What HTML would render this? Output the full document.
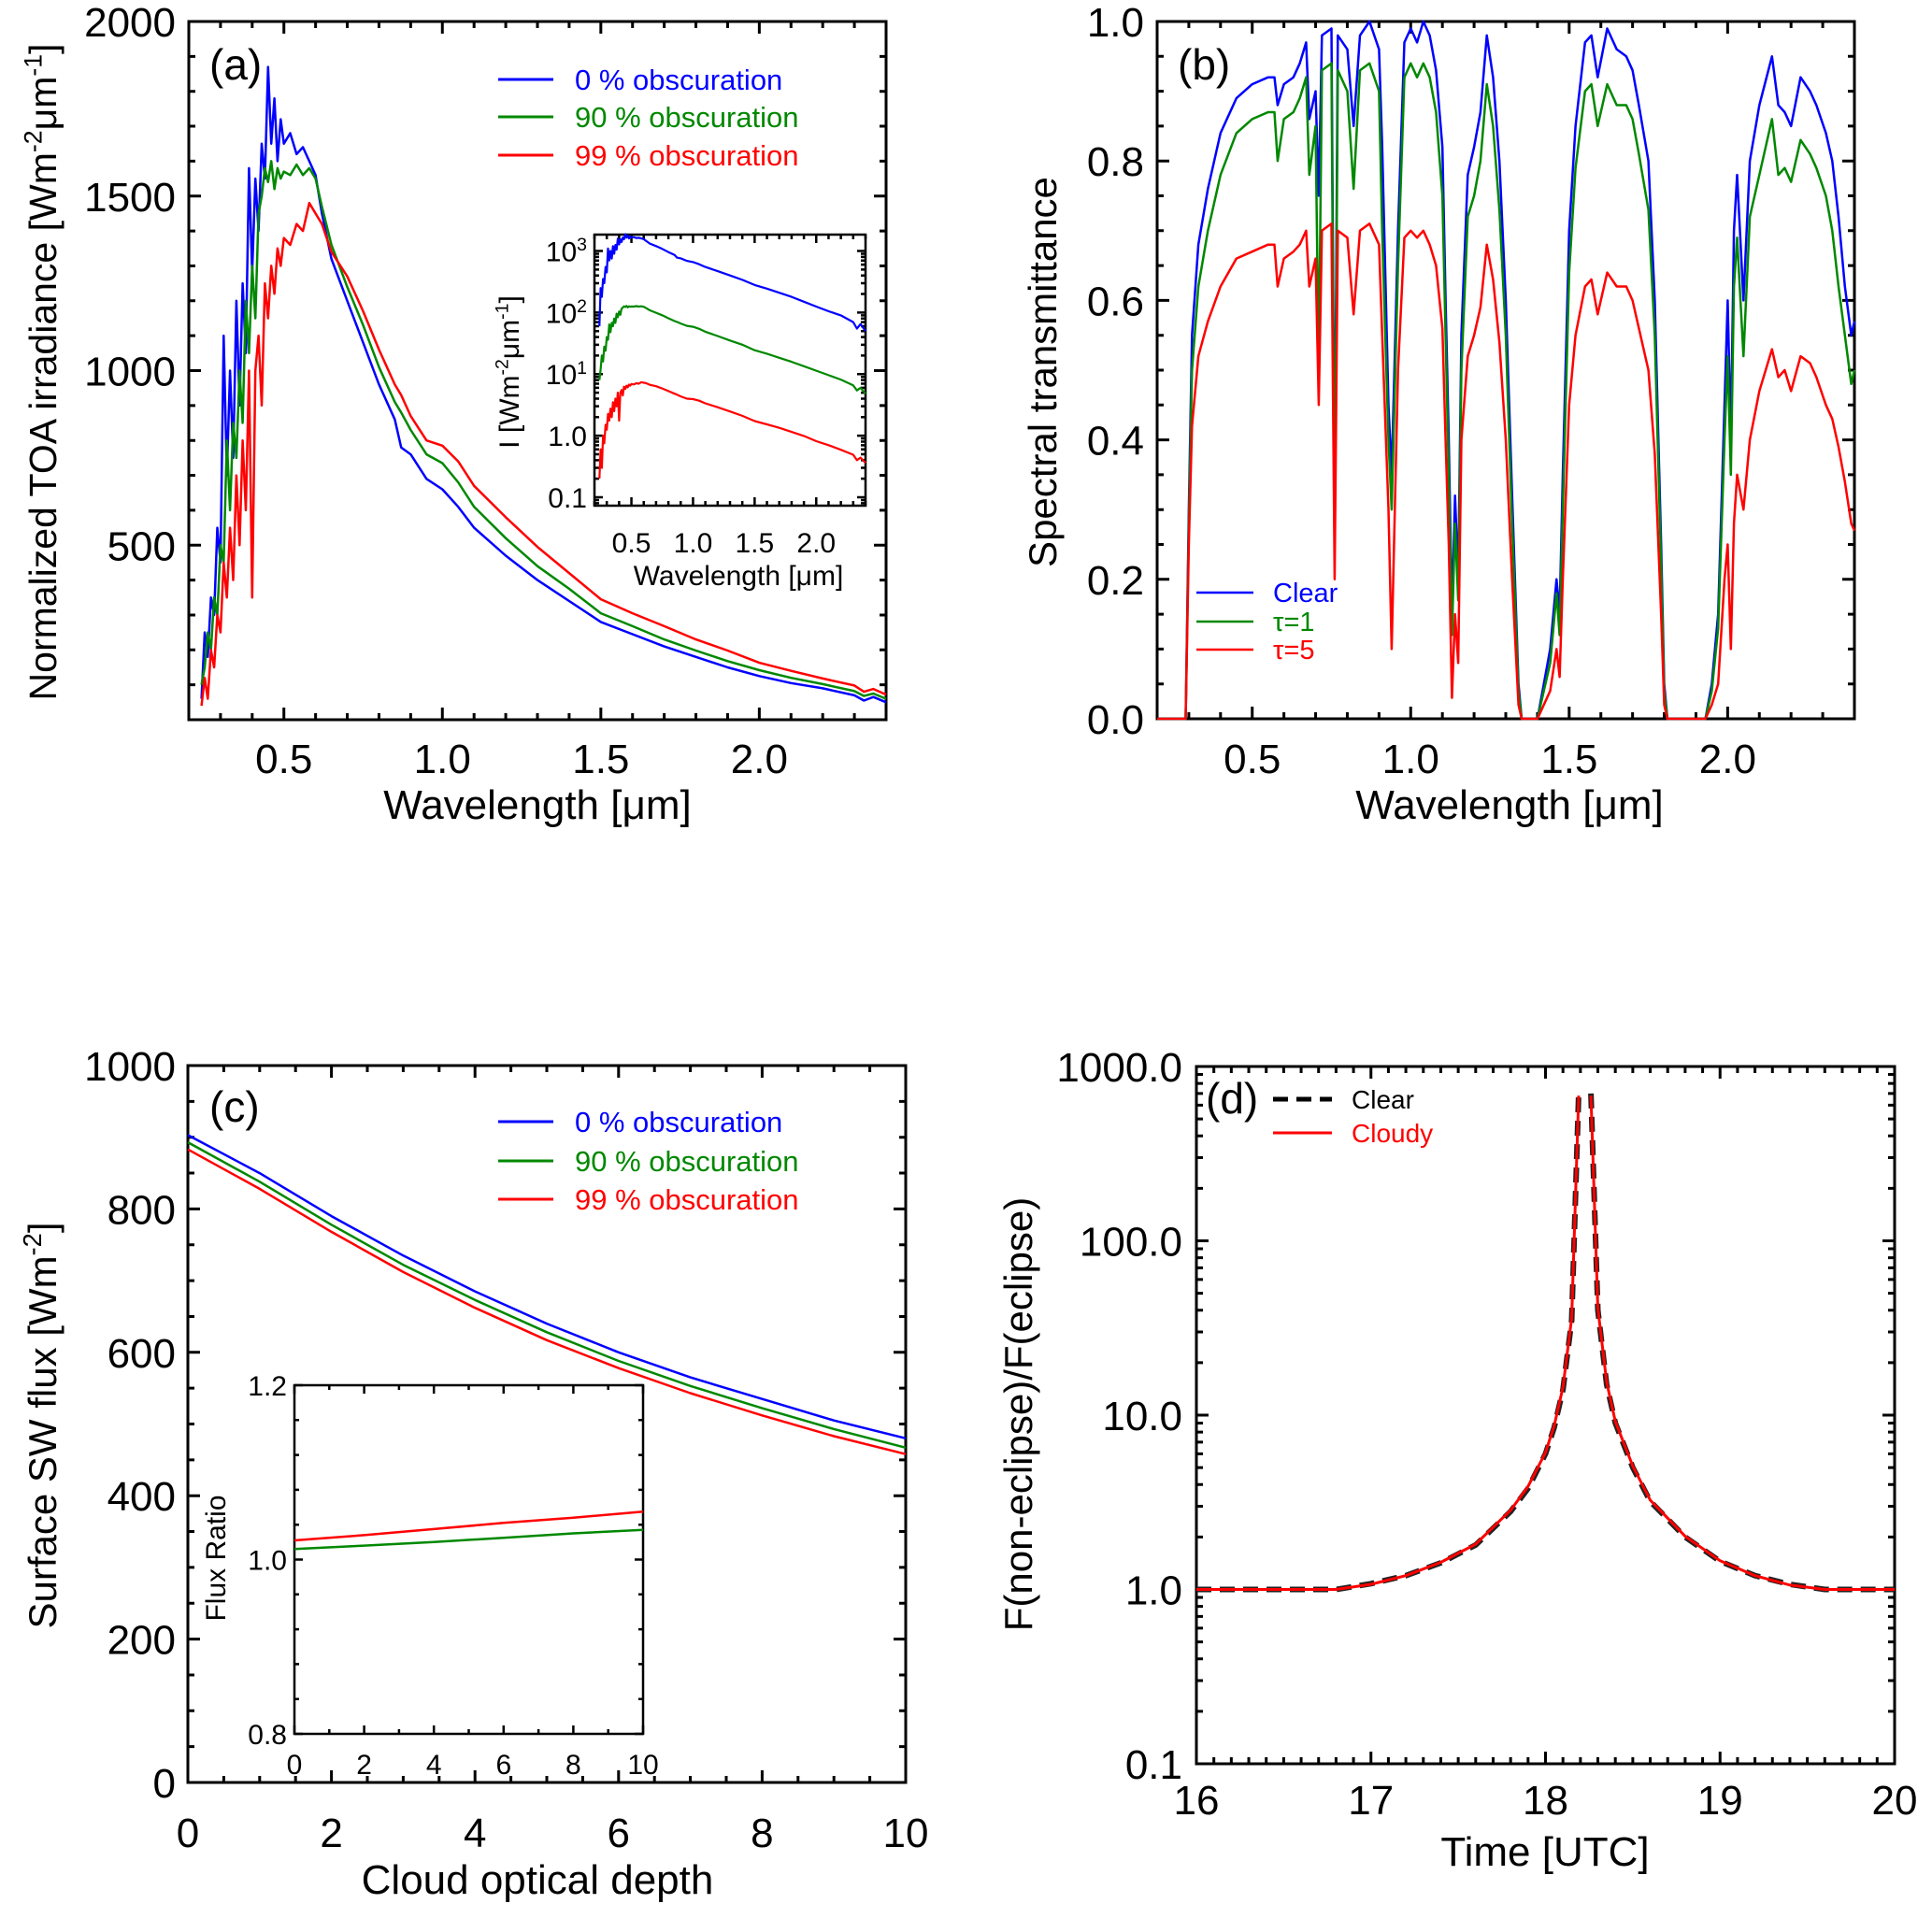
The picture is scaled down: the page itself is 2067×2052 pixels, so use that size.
<!DOCTYPE html>
<html><head><meta charset="utf-8"><title>Eclipse radiation figure</title>
<style>
html,body{margin:0;padding:0;background:#fff;}
svg{display:block;font-family:"Liberation Sans",Helvetica,Arial,sans-serif;}
</style></head>
<body>
<svg id="fig" width="2067" height="2052" viewBox="0 0 2067 2052" xmlns="http://www.w3.org/2000/svg"></svg>
<script>
// ---------- Panel (a) data ----------
const aWave = [0.24,0.25,0.26,0.27,0.28,0.29,0.30,0.31,0.32,0.33,0.34,0.35,0.36,0.37,0.38,0.39,0.40,0.41,0.42,0.43,0.44,0.45,0.46,0.47,0.48,0.49,0.50,
 0.52,0.54,0.56,0.58,0.60,0.62,0.65,0.70,0.75,0.80,0.85,0.87,0.90,0.95,1.00,1.05,1.10,1.20,1.30,1.40,1.50,1.60,1.70,1.80,1.90,2.00,2.10,2.20,2.30,2.33,2.36,2.40];
const aBlue = [60,250,180,350,300,550,450,1100,700,1000,750,1200,900,1250,1050,1580,1280,1550,1400,1650,1550,1870,1650,1780,1600,1720,1650,
 1680,1620,1640,1600,1560,1450,1320,1200,1080,960,860,780,760,690,660,610,550,470,400,340,280,245,210,180,150,125,105,90,70,55,65,50];
const aGreen = [100,150,250,200,350,300,500,450,800,600,850,750,1000,850,1200,1050,1300,1150,1450,1500,1580,1540,1600,1520,1580,1550,1570,
 1560,1590,1560,1580,1550,1470,1360,1240,1130,1010,910,880,830,760,735,680,610,520,440,375,305,268,230,198,168,142,120,102,82,68,75,60];
const aRed = [40,120,60,200,150,300,250,450,350,550,400,700,500,800,600,1000,350,1000,1100,900,1250,1150,1300,1220,1350,1300,1380,
 1360,1420,1400,1480,1450,1420,1340,1270,1170,1060,960,930,870,800,785,740,670,580,495,420,345,305,268,230,198,163,140,118,98,80,88,72];
const aInsetFactor = [1, 0.08, 0.005];
const aXTicks = [0.5,1.0,1.5,2.0];
const aXLabels = ["0.5","1.0","1.5","2.0"];
const aYTicks = [500,1000,1500,2000];
const aYLabels = ["500","1000","1500","2000"];
const aInsYTicks = [0.1,1,10,100,1000];
const aLegend = ["0 % obscuration","90 % obscuration","99 % obscuration"];

// ---------- Panel (b) data ----------
const bWave = [0.20,0.29,0.30,0.31,0.33,0.36,0.40,0.45,0.50,0.55,
 0.57,0.58,0.60,0.63,0.65,0.67,0.68,0.70,0.71,0.72,
 0.75,0.76,0.77,0.80,0.82,0.84,0.87,0.90,0.91,0.93,
 0.94,0.96,0.98,1.00,1.02,1.04,1.06,1.08,1.10,1.11,
 1.12,1.13,1.14,1.15,1.16,1.18,1.20,1.22,1.24,1.26,
 1.28,1.30,1.32,1.34,1.35,1.40,1.42,1.44,1.46,1.47,
 1.48,1.50,1.52,1.55,1.57,1.59,1.62,1.65,1.68,1.70,
 1.72,1.75,1.77,1.79,1.80,1.81,1.93,1.95,1.97,1.99,
 2.00,2.01,2.02,2.03,2.05,2.07,2.10,2.14,2.16,2.18,
 2.20,2.23,2.26,2.28,2.31,2.33,2.35,2.37,2.39,2.40];
const bClear = [0,0,0.30,0.55,0.68,0.76,0.84,0.89,0.91,0.92,
 0.92,0.88,0.91,0.92,0.94,0.97,0.86,0.90,0.75,0.98,
 0.99,0.30,0.98,0.96,0.85,0.98,1.00,0.96,0.82,0.45,
 0.35,0.70,0.97,0.99,0.97,1.00,0.98,0.93,0.82,0.60,
 0.40,0.15,0.32,0.20,0.55,0.78,0.82,0.87,0.98,0.92,
 0.80,0.60,0.32,0.05,0,0,0.05,0.10,0.20,0.15,
 0.35,0.70,0.85,0.97,0.98,0.92,0.99,0.96,0.95,0.93,
 0.88,0.80,0.60,0.25,0.05,0,0,0.05,0.15,0.45,
 0.60,0.40,0.70,0.78,0.60,0.80,0.88,0.95,0.88,0.87,
 0.85,0.92,0.90,0.88,0.84,0.80,0.72,0.62,0.55,0.57];
const bTau1 = [0,0,0.28,0.50,0.62,0.70,0.78,0.84,0.86,0.87,
 0.87,0.80,0.86,0.87,0.89,0.92,0.78,0.85,0.50,0.93,
 0.94,0.25,0.93,0.90,0.76,0.93,0.94,0.90,0.70,0.40,
 0.30,0.65,0.92,0.94,0.92,0.94,0.92,0.87,0.75,0.55,
 0.35,0.12,0.28,0.17,0.50,0.72,0.75,0.80,0.91,0.85,
 0.73,0.55,0.28,0.04,0,0,0.04,0.08,0.18,0.12,
 0.30,0.64,0.79,0.90,0.91,0.85,0.91,0.88,0.88,0.86,
 0.81,0.73,0.55,0.22,0.04,0,0,0.04,0.13,0.40,
 0.52,0.35,0.62,0.69,0.52,0.72,0.78,0.86,0.78,0.79,
 0.77,0.83,0.81,0.79,0.75,0.70,0.62,0.55,0.48,0.50];
const bTau5 = [0,0,0.25,0.42,0.52,0.57,0.62,0.66,0.67,0.68,
 0.68,0.62,0.66,0.67,0.68,0.70,0.62,0.66,0.45,0.70,
 0.71,0.20,0.70,0.69,0.58,0.70,0.71,0.68,0.55,0.30,
 0.10,0.50,0.69,0.70,0.69,0.70,0.68,0.65,0.56,0.40,
 0.25,0.03,0.15,0.08,0.40,0.52,0.55,0.59,0.68,0.63,
 0.54,0.40,0.20,0.02,0,0,0.02,0.04,0.10,0.06,
 0.20,0.45,0.55,0.62,0.63,0.58,0.64,0.62,0.62,0.60,
 0.56,0.50,0.38,0.15,0.02,0,0,0.02,0.05,0.20,
 0.25,0.10,0.28,0.35,0.30,0.40,0.47,0.53,0.49,0.50,
 0.47,0.52,0.51,0.49,0.45,0.43,0.39,0.34,0.28,0.27];
const bYTicks = [0,0.2,0.4,0.6,0.8,1.0];
const bYLabels = ["0.0","0.2","0.4","0.6","0.8","1.0"];
const bLegend = ["Clear","τ=1","τ=5"];

// ---------- Panel (c) data ----------
const cTau = [0,1,2,3,4,5,6,7,8,9,10];
const cFlux0 = [903,850,790,735,685,640,600,565,535,505,480];
const cFlux90 = [893,838,778,722,673,628,588,553,522,493,467];
const cFlux99 = [883,828,768,712,662,617,578,543,512,483,458];
const cInsTau = [0,2,4,6,8,10];
const cRatio99 = [1.022,1.028,1.035,1.042,1.048,1.055];
const cRatio90 = [1.012,1.016,1.020,1.025,1.030,1.034];
const cXTicks = [0,2,4,6,8,10];
const cYTicks = [0,200,400,600,800,1000];
const cInsYTicks = [0.8,1.0,1.2];
const cInsYLabels = ["0.8","1.0","1.2"];

// ---------- Panel (d) data ----------
const dTimeLeft = [16.0,16.5,16.8,17.0,17.2,17.4,17.6,17.8,17.9,18.0,18.05,18.1,18.15,18.19];
const dClearLeft = [1.0,1.0,1.0,1.08,1.2,1.42,1.8,2.8,3.8,6.0,8.5,14,35,700];
const dCloudyLeft = [1.0,1.0,1.0,1.07,1.2,1.43,1.82,2.85,3.9,6.1,8.7,14.5,36,680];
const dTimeRight = [18.26,18.3,18.35,18.4,18.5,18.6,18.8,19.0,19.2,19.4,19.6,20.0];
const dClearRight = [700,40,15,9,5.0,3.2,2.0,1.45,1.2,1.07,1.0,1.0];
const dCloudyRight = [680,41,15.5,9.2,5.1,3.25,2.02,1.46,1.2,1.06,1.0,1.0];
const dXTicks = [16,17,18,19,20];
const dYTicks = [0.1,1,10,100,1000];
const dYLabels = ["0.1","1.0","10.0","100.0","1000.0"];

// ---------- helpers ----------
const NS = "http://www.w3.org/2000/svg";
const fig = document.getElementById("fig");
const BLUE = "#0000ff", GREEN = "#008800", RED = "#ff0000";
function el(tag, attrs, parent){
  const e = document.createElementNS(NS, tag);
  for (const k in attrs) e.setAttribute(k, attrs[k]);
  (parent || fig).appendChild(e);
  return e;
}
function panel(px0,px1,py0,py1,xmin,xmax,ymin,ymax,ylog){
  const p = {px0,px1,py0,py1,xmin,xmax,ymin,ymax,ylog};
  p.fx = v => px0 + (v - xmin) / (xmax - xmin) * (px1 - px0);
  p.fy = v => {
    const t = ylog ? (Math.log10(v) - ymin) / (ymax - ymin) : (v - ymin) / (ymax - ymin);
    return py1 - t * (py1 - py0);
  };
  return p;
}
function frame(p, name, xMajor, xMinorStep, yMajor, yMinorStep, majLen, minLen, sw){
  const g = el("g", {});
  
  
  const r = el("rect", {x:p.px0, y:p.py0, width:p.px1-p.px0, height:p.py1-p.py0, fill:"none", stroke:"#000", "stroke-width":sw}, g);
  
  
  let d = "";
  const xTick = (v, len) => { const x = p.fx(v); d += `M${x},${p.py1}v${-len}M${x},${p.py0}v${len}`; };
  const yTick = (v, len) => { const y = p.fy(v); d += `M${p.px0},${y}h${len}M${p.px1},${y}h${-len}`; };
  xMajor.forEach(v => xTick(v, majLen));
  if (xMinorStep) {
    const start = Math.ceil(p.xmin / xMinorStep - 1e-6);
    for (let i = start; i * xMinorStep <= p.xmax + 1e-6; i++) {
      const v = i * xMinorStep;
      if (!xMajor.some(m => Math.abs(m - v) < 1e-6)) xTick(v, minLen);
    }
  }
  yMajor.forEach(v => yTick(v, majLen));
  if (p.ylog) {
    for (let e = Math.floor(p.ymin); e < Math.ceil(p.ymax); e++) {
      for (let k = 2; k <= 9; k++) {
        const v = k * Math.pow(10, e);
        const lv = Math.log10(v);
        if (lv > p.ymin && lv < p.ymax) yTick(v, minLen);
      }
    }
  } else if (yMinorStep) {
    const start = Math.ceil(p.ymin / yMinorStep - 1e-6);
    for (let i = start; i * yMinorStep <= p.ymax + 1e-6; i++) {
      const v = i * yMinorStep;
      if (!yMajor.some(m => Math.abs(m - v) < 1e-6)) yTick(v, minLen);
    }
  }
  el("path", {d, stroke:"#000", "stroke-width":sw, fill:"none"}, g);
  return g;
}
function text(str, x, y, size, opts){
  opts = opts || {};
  const t = el("text", {x, y, "font-size":size, fill:opts.fill || "#000", "text-anchor":opts.anchor || "start"});
  if (opts.rotate) t.setAttribute("transform", `rotate(-90 ${x} ${y})`);
  t.textContent = str;
  return t;
}
function richText(parts, x, y, size, opts){
  opts = opts || {};
  const t = el("text", {x, y, "font-size":size, fill:opts.fill || "#000", "text-anchor":opts.anchor || "start"});
  if (opts.rotate) t.setAttribute("transform", `rotate(-90 ${x} ${y})`);
  let prevSup = false;
  parts.forEach(([s, sup]) => {
    const ts = el("tspan", {}, t);
    if (sup && !prevSup) { ts.setAttribute("dy", -size*0.38); ts.setAttribute("font-size", size*0.65); }
    else if (sup) { ts.setAttribute("font-size", size*0.65); }
    else if (!sup && prevSup) { ts.setAttribute("dy", size*0.38); }
    ts.textContent = s;
    prevSup = sup;
  });
  return t;
}
function series(p, xs, ys, color, name, width, dash){
  let d = "";
  for (let i = 0; i < xs.length; i++) {
    d += (i ? "L" : "M") + p.fx(xs[i]).toFixed(1) + "," + p.fy(ys[i]).toFixed(1);
  }
  const attrs = {d, stroke:color, "stroke-width":width || 3, fill:"none", "stroke-linejoin":"round"};
  if (dash) attrs["stroke-dasharray"] = dash;
  const path = el("path", attrs);
  
  
  return path;
}
function legendLine(x1, x2, y, color, width, dash){
  const a = {x1, x2, y1:y, y2:y, stroke:color, "stroke-width":width || 3};
  if (dash) a["stroke-dasharray"] = dash;
  return el("line", a);
}

// ================= Panel (a) =================
const pa = panel(202, 948, 23, 770, 0.2, 2.4, 0, 2000, false);
frame(pa, "panel-a-axes", aXTicks, 0.1, aYTicks, 100, 13, 7, 3);
aXTicks.forEach((v,i) => { const t = text(aXLabels[i], pa.fx(v), 827, 44, {anchor:"middle"});
    });
aYTicks.forEach((v,i) => { const t = text(aYLabels[i], 188, pa.fy(v) + 16, 44, {anchor:"end"});
    });
let tt = richText([["Wavelength [μm]", false]], 575, 876, 44, {anchor:"middle"});
 
tt = richText([["Normalized TOA irradiance [Wm",false],["-2",true],["μm",false],["-1",true],["]",false]], 60, 398, 41, {anchor:"middle", rotate:true});
 
tt = text("(a)", 224, 85, 46);
 
series(pa, aWave, aBlue, BLUE, "a-series-0pct", 2.5);
series(pa, aWave, aGreen, GREEN, "a-series-90pct", 2.5);
series(pa, aWave, aRed, RED, "a-series-99pct", 2.5);
[[BLUE,85],[GREEN,125],[RED,166]].forEach(([c,y],i) => {
  const l = legendLine(533, 592, y, c, 3);
   
  const t = text(aLegend[i], 615, y + 11, 31, {fill:c});
   
});
// inset a
const pai = panel(636, 926, 251, 541, 0.2, 2.4, -1.137, 3.266, true);
frame(pai, "a-inset-axes", aXTicks, 0.1, aInsYTicks, 0, 9, 5, 2.5);
aXTicks.forEach((v,i) => { const t = text(aXLabels[i], pai.fx(v), 591, 30, {anchor:"middle"});
    });
const insLab = [[["0.1",false]],[["1.0",false]],[["10",false],["1",true]],[["10",false],["2",true]],[["10",false],["3",true]]];
aInsYTicks.forEach((v,i) => { const t = richText(insLab[i], 628, pai.fy(v) + 11, 30, {anchor:"end"});
    });
tt = text("Wavelength [μm]", 790, 626, 30, {anchor:"middle"});
 
tt = richText([["I [Wm",false],["-2",true],["μm",false],["-1",true],["]",false]], 555, 398, 30, {anchor:"middle", rotate:true});
 
[[aBlue,BLUE,"a-inset-0pct"],[aGreen,GREEN,"a-inset-90pct"],[aRed,RED,"a-inset-99pct"]].forEach(([arr,c,n],k) => {
  const vals = arr.map(v => v * aInsetFactor[k]);
  series(pai, aWave, vals, c, n, 2.2);
});

// ================= Panel (b) =================
const pb = panel(1238, 1984, 23, 769, 0.2, 2.4, 0, 1, false);
frame(pb, "panel-b-axes", aXTicks, 0.1, bYTicks, 0.05, 13, 7, 3);
aXTicks.forEach((v,i) => { const t = text(aXLabels[i], pb.fx(v), 827, 44, {anchor:"middle"});
    });
bYTicks.forEach((v,i) => { const t = text(bYLabels[i], 1224, pb.fy(v) + 16, 44, {anchor:"end"});
    });
tt = text("Wavelength [μm]", 1615, 876, 44, {anchor:"middle"});
 
tt = text("Spectral transmittance", 1130, 398, 42, {anchor:"middle", rotate:true});
 
tt = text("(b)", 1260, 85, 46);
 
series(pb, bWave, bClear, BLUE, "b-series-clear", 2.5);
series(pb, bWave, bTau1, GREEN, "b-series-tau1", 2.5);
series(pb, bWave, bTau5, RED, "b-series-tau5", 2.5);
[[BLUE,634],[GREEN,665],[RED,695]].forEach(([c,y],i) => {
  const l = legendLine(1280, 1341, y, c, 2.5);
   
  const t = text(bLegend[i], 1362, y + 10, 29, {fill:c});
   
});

// ================= Panel (c) =================
const pc = panel(201, 969, 1140, 1907, 0, 10, 0, 1000, false);
frame(pc, "panel-c-axes", cXTicks, 0.5, cYTicks, 50, 13, 7, 3);
cXTicks.forEach(v => { const t = text(String(v), pc.fx(v), 1976, 44, {anchor:"middle"});
    });
cYTicks.forEach(v => { const t = text(String(v), 188, pc.fy(v) + 16, 44, {anchor:"end"});
    });
tt = text("Cloud optical depth", 575, 2026, 44, {anchor:"middle"});
 
tt = richText([["Surface SW flux [Wm",false],["-2",true],["]",false]], 60, 1525, 42, {anchor:"middle", rotate:true});
 
tt = text("(c)", 224, 1200, 46);
 
series(pc, cTau, cFlux0, BLUE, "c-series-0pct", 2.5);
series(pc, cTau, cFlux90, GREEN, "c-series-90pct", 2.5);
series(pc, cTau, cFlux99, RED, "c-series-99pct", 2.5);
[[BLUE,1200],[GREEN,1242],[RED,1283]].forEach(([c,y],i) => {
  const l = legendLine(533, 592, y, c, 3);
   
  const t = text(aLegend[i], 615, y + 11, 31, {fill:c});
   
});
// inset c
const pci = panel(315, 688, 1482, 1855, 0, 10, 0.8, 1.2, false);
frame(pci, "c-inset-axes", cXTicks, 1, cInsYTicks, 0.04, 9, 5, 2.5);
cXTicks.forEach(v => { const t = text(String(v), pci.fx(v), 1898, 30, {anchor:"middle"});
    });
cInsYTicks.forEach((v,i) => { const t = text(cInsYLabels[i], 307, pci.fy(v) + 11, 30, {anchor:"end"});
    });
tt = text("Flux Ratio", 241, 1667, 30, {anchor:"middle", rotate:true});
 
series(pci, cInsTau, cRatio99, RED, "c-inset-ratio-99pct", 2.5);
series(pci, cInsTau, cRatio90, GREEN, "c-inset-ratio-90pct", 2.5);

// ================= Panel (d) =================
const pd = panel(1280, 2027, 1141, 1887, 16, 20, -1, 3, true);
frame(pd, "panel-d-axes", dXTicks, 0.1, dYTicks, 0, 13, 7, 3);
dXTicks.forEach(v => { const t = text(String(v), pd.fx(v), 1941, 44, {anchor:"middle"});
    });
dYTicks.forEach((v,i) => { const t = text(dYLabels[i], 1265, pd.fy(v) + 16, 44, {anchor:"end"});
    });
tt = text("Time [UTC]", 1653, 1996, 44, {anchor:"middle"});
 
tt = text("F(non-eclipse)/F(eclipse)", 1104, 1513, 42, {anchor:"middle", rotate:true});
 
tt = text("(d)", 1290, 1191, 46);
 
series(pd, dTimeLeft, dClearLeft, "#222", "d-series-clear-left", 6, "16,9");
series(pd, dTimeRight, dClearRight, "#222", "d-series-clear-right", 6, "16,9");
series(pd, dTimeLeft, dCloudyLeft, RED, "d-series-cloudy-left", 3);
series(pd, dTimeRight, dCloudyRight, RED, "d-series-cloudy-right", 3);
let ll = legendLine(1362, 1425, 1176, "#000", 5, "16,9");
 
tt = text("Clear", 1446, 1186, 28);
 
ll = legendLine(1362, 1425, 1212, RED, 3);
 
tt = text("Cloudy", 1446, 1222, 28, {fill:RED});
 
</script>
</body></html>
